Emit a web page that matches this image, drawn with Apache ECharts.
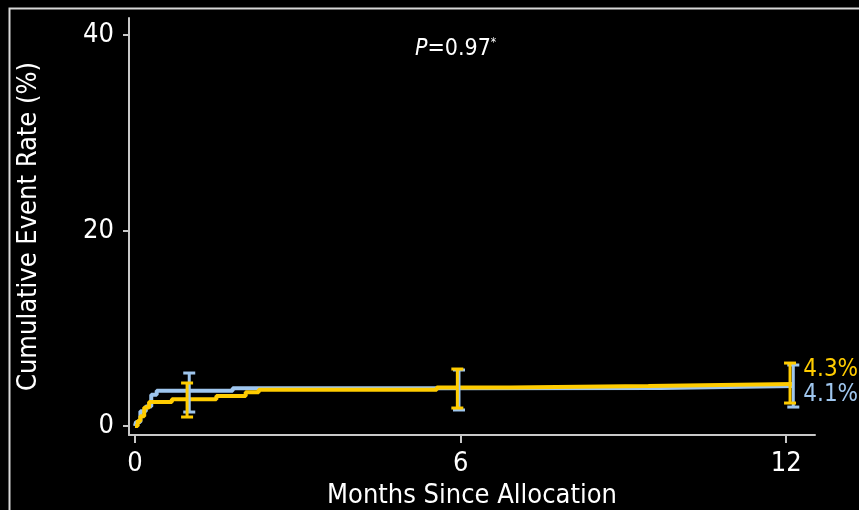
<!DOCTYPE html>
<html>
<head>
<meta charset="utf-8">
<style>
  html, body { margin: 0; padding: 0; background: #000; }
  #chart { width: 859px; height: 510px; }
</style>
<script src="https://cdn.jsdelivr.net/npm/echarts@6/dist/echarts.min.js"></script>
</head>
<body>
<div id="chart"></div>
<script>
// ---- data ----
const xTicks = [0, 6, 12];
const yTicks = [0, 20, 40];

// step curves (month at which the cumulative rate becomes the value)
const blueMonths  = [0, 0.02, 0.1, 0.2, 0.3, 0.4, 1.8, 5.6, 9.7, 12.13];
const blueValues  = [0, 0.4, 1.5, 2.0, 3.2, 3.6, 3.85, 3.9, 4.1, 4.1];
const yellowMonths = [0, 0.05, 0.1, 0.17, 0.26, 0.68, 1.5, 2.04, 2.28, 5.56, 6.92, 9.46, 12.13];
const yellowValues = [0, 0.5, 1.0, 1.9, 2.45, 2.75, 3.06, 3.45, 3.7, 3.95, 4.1, 4.3, 4.3];

// confidence intervals
const yellowCiMonths = [0.96, 5.94, 12.07];
const yellowCiMid    = [2.75, 3.95, 4.3];
const yellowCiLow    = [0.92, 1.84, 2.35];
const yellowCiHigh   = [4.4, 5.83, 6.44];
const blueCiMonths   = [1.0, 5.97, 12.13];
const blueCiMid      = [3.6, 3.9, 4.1];
const blueCiLow      = [1.43, 1.64, 1.94];
const blueCiHigh     = [5.42, 5.73, 6.24];

const finalLabels = { yellow: '4.3%', blue: '4.1%' };
const pText = { p: 'P', rest: '=0.97', mark: '*' };

// ---- styling ----
const YELLOW = '#ffcc00';
const BLUE = '#9fc6ee';
const AXIS = '#c8c8c8';
const FONT = '"DejaVu Sans Condensed", "DejaVu Sans", sans-serif';

function zip(a, b) { return a.map((v, i) => [v, b[i]]); }
function ciData(m, mid, lo, hi) { return m.map((v, i) => [v, mid[i], lo[i], hi[i]]); }

function errorBar(color) {
  return function (params, api) {
    const x = api.value(0);
    const top = api.coord([x, api.value(3)]);
    const bot = api.coord([x, api.value(2)]);
    const half = 6;
    const st = { stroke: color, lineWidth: 3 };
    return {
      type: 'group',
      children: [
        { type: 'line', shape: { x1: top[0], y1: top[1], x2: bot[0], y2: bot[1] }, style: st },
        { type: 'line', shape: { x1: top[0] - half, y1: top[1], x2: top[0] + half, y2: top[1] }, style: st },
        { type: 'line', shape: { x1: bot[0] - half, y1: bot[1], x2: bot[0] + half, y2: bot[1] }, style: st }
      ]
    };
  };
}

const chart = echarts.init(document.getElementById('chart'), null, { renderer: 'canvas' });
chart.setOption({
  backgroundColor: '#000',
  animation: false,
  textStyle: { fontFamily: FONT },
  grid: { left: 129, right: 44, top: 18, bottom: 75, containLabel: false, outerBoundsMode: 'none' },
  xAxis: {
    type: 'value', min: -0.11, max: 12.53,
    splitLine: { show: false },
    axisLine: { show: true, onZero: false, lineStyle: { color: AXIS, width: 2 } },
    axisTick: { show: true, customValues: xTicks, length: 8, lineStyle: { color: AXIS, width: 2 } },
    axisLabel: { customValues: xTicks, color: '#fff', fontSize: 27, fontFamily: FONT, margin: 15 },
    name: 'Months Since Allocation', nameLocation: 'middle', nameGap: 47,
    nameTextStyle: { color: '#fff', fontSize: 27, fontFamily: FONT }
  },
  yAxis: {
    type: 'value', min: -0.92, max: 41.74,
    splitLine: { show: false },
    axisLine: { show: true, onZero: false, lineStyle: { color: AXIS, width: 2 } },
    axisTick: { show: true, customValues: yTicks, length: 6, lineStyle: { color: AXIS, width: 2 } },
    axisLabel: { customValues: yTicks, color: '#fff', fontSize: 27, fontFamily: FONT, margin: 15 },
    name: 'Cumulative Event Rate (%)', nameLocation: 'middle', nameGap: 87,
    nameTextStyle: { color: '#fff', fontSize: 27, fontFamily: FONT }
  },
  graphic: [
    { type: 'rect', left: 7, top: 6, shape: { width: 900, height: 600 },
      style: { fill: 'none', stroke: '#d8d8d8', lineWidth: 2 }, silent: true },
    { type: 'text', left: 415, top: 37,
      style: {
        text: '{p|' + pText.p + '}{n|' + pText.rest + '}{s|' + pText.mark + '}',
        rich: {
          p: { fill: '#fff', fontSize: 23, fontStyle: 'italic', fontFamily: FONT },
          n: { fill: '#fff', fontSize: 23, fontFamily: FONT },
          s: { fill: '#fff', fontSize: 12, fontFamily: FONT, verticalAlign: 'top', padding: [0, 0, 12, 0] }
        }
      } }
  ],
  series: [
    {
      type: 'line', step: 'end', data: zip(blueMonths, blueValues), symbol: 'none',
      lineStyle: { color: BLUE, width: 4 }, z: 2,
      endLabel: { show: true, formatter: () => finalLabels.blue, color: BLUE, fontSize: 24,
        fontFamily: FONT, distance: 10, offset: [0, 9] }
    },
    {
      type: 'line', step: 'end', data: zip(yellowMonths, yellowValues), symbol: 'none',
      lineStyle: { color: YELLOW, width: 4 }, z: 3,
      endLabel: { show: true, formatter: () => finalLabels.yellow, color: YELLOW, fontSize: 24,
        fontFamily: FONT, distance: 10, offset: [0, -14] }
    },
    { type: 'custom', data: ciData(blueCiMonths, blueCiMid, blueCiLow, blueCiHigh),
      renderItem: errorBar(BLUE), z: 4 },
    { type: 'custom', data: ciData(yellowCiMonths, yellowCiMid, yellowCiLow, yellowCiHigh),
      renderItem: errorBar(YELLOW), z: 5 }
  ]
});
</script>
</body>
</html>
